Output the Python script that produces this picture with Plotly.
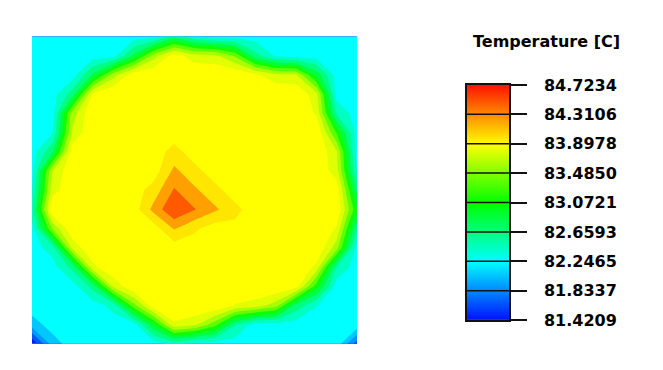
import plotly.graph_objects as go

# ---------------- data ----------------
# sample grid (normalised plate coordinates)
x_nodes = [0.0, 0.0625, 0.125, 0.1875, 0.25, 0.3125, 0.375, 0.4375, 0.5,
           0.5625, 0.625, 0.6875, 0.75, 0.8125, 0.875, 0.9375, 1.0]
y_nodes = [0.0, 0.0625, 0.125, 0.1875, 0.25, 0.3125, 0.375, 0.4375, 0.5,
           0.5625, 0.625, 0.6875, 0.75, 0.8125, 0.875, 0.9375, 1.0]

# temperature [C], one row per y (bottom -> top)
temp_rows = [
    [81.43, 82.15, 82.35, 82.35, 82.35, 82.35, 82.35, 82.52, 82.35, 82.35, 82.35, 82.35, 82.35, 82.35, 82.35, 82.38, 81.72],
    [82.15, 82.33, 82.35, 82.35, 82.35, 82.35, 83.05, 83.86, 83.74, 83.36, 82.67, 82.35, 82.35, 82.35, 82.35, 82.35, 82.38],
    [82.35, 82.35, 82.35, 82.35, 82.52, 83.40, 84.04, 84.09, 84.09, 84.09, 83.88, 83.81, 83.59, 82.79, 82.46, 82.35, 82.35],
    [82.35, 82.35, 82.35, 82.75, 83.74, 84.09, 84.05, 84.05, 84.05, 84.05, 84.09, 84.09, 84.09, 84.01, 83.17, 82.35, 82.35],
    [82.35, 82.35, 82.74, 83.84, 84.09, 84.05, 84.05, 84.05, 84.05, 84.05, 84.05, 84.05, 84.05, 84.09, 83.85, 82.64, 82.35],
    [82.35, 82.55, 83.75, 84.09, 84.05, 84.05, 84.00, 84.00, 84.00, 84.05, 84.05, 84.05, 84.05, 84.05, 84.09, 83.58, 82.35],
    [82.37, 83.50, 84.09, 84.05, 84.05, 84.00, 84.00, 84.33, 84.14, 84.00, 84.05, 84.05, 84.05, 84.05, 84.09, 83.87, 82.69],
    [82.60, 84.09, 84.05, 84.05, 84.00, 84.00, 84.38, 84.715, 84.53, 84.35, 84.16, 84.00, 84.05, 84.05, 84.05, 84.09, 83.10],
    [82.45, 83.80, 84.09, 84.05, 84.05, 84.00, 84.20, 84.54, 84.35, 84.17, 84.00, 84.00, 84.05, 84.05, 84.09, 84.03, 82.80],
    [82.35, 83.68, 84.09, 84.05, 84.05, 84.05, 84.00, 84.36, 84.17, 84.00, 84.00, 84.05, 84.05, 84.05, 84.09, 83.78, 82.48],
    [82.35, 82.83, 84.03, 84.09, 84.05, 84.05, 84.00, 84.18, 84.00, 84.00, 84.05, 84.05, 84.05, 84.05, 84.09, 83.72, 82.35],
    [82.35, 82.43, 83.72, 84.09, 84.05, 84.05, 84.00, 84.00, 84.00, 84.05, 84.05, 84.05, 84.05, 84.05, 84.09, 83.25, 82.35],
    [82.35, 82.35, 83.60, 84.09, 84.05, 84.05, 84.05, 84.05, 84.05, 84.05, 84.05, 84.05, 84.05, 84.09, 83.87, 82.63, 82.35],
    [82.35, 82.35, 82.77, 83.94, 84.09, 84.05, 84.05, 84.05, 84.05, 84.05, 84.05, 84.05, 84.09, 84.09, 83.77, 82.35, 82.35],
    [82.35, 82.35, 82.35, 82.91, 83.60, 84.04, 84.09, 84.09, 84.09, 84.09, 84.09, 83.95, 83.75, 83.72, 83.00, 82.35, 82.35],
    [82.35, 82.35, 82.35, 82.35, 82.35, 82.92, 83.60, 84.01, 83.78, 83.75, 83.45, 82.74, 82.42, 82.35, 82.35, 82.35, 82.35],
    [82.35, 82.35, 82.35, 82.35, 82.35, 82.35, 82.37, 82.80, 82.48, 82.35, 82.35, 82.35, 82.35, 82.35, 82.35, 82.35, 82.35],
]

# legend scale
cb_ticks = [81.4209, 81.8337, 82.2465, 82.6593, 83.0721, 83.4850, 83.8978, 84.3106, 84.7234]
cb_labels = ["81.4209", "81.8337", "82.2465", "82.6593", "83.0721",
             "83.4850", "83.8978", "84.3106", "84.7234"]

# fill colour of the 16 plot bands (half a legend step each), low -> high
band_colors = ["#0020ff", "#0058ff", "#0098ff", "#00c8ff", "#00ffff", "#00ffc0",
               "#00ff80", "#00ff40", "#10ff00", "#60ff00", "#a8ff00", "#e0ff00",
               "#ffff00", "#ffe600", "#ffa000", "#ff5a00"]

rainbow = [[0.0, "#0010ff"], [0.25, "#00ffff"], [0.5, "#00ff00"],
           [0.75, "#ffff00"], [1.0, "#ff1400"]]

# ---------------- figure ----------------
W, H = 663, 370
zlo, zhi = cb_ticks[0], cb_ticks[-1]
n_bands = len(band_colors)
step = (zhi - zlo) / n_bands

fill_scale = [[0.0, band_colors[0]]] + [[(k + 1) / n_bands, c] for k, c in enumerate(band_colors)]

fig = go.Figure()

fig.add_trace(go.Contour(
    x=x_nodes, y=y_nodes, z=temp_rows,
    colorscale=fill_scale, showscale=False, autocontour=False,
    contours=dict(coloring="fill", showlines=False,
                  start=zlo, end=zlo + (n_bands - 1) * step, size=step),
    line=dict(width=0, smoothing=0), hoverinfo="skip",
))

cb_step = (zhi - zlo) / (len(cb_ticks) - 1)
fig.add_trace(go.Contour(
    x=[0, 1], y=cb_ticks, z=[[v, v] for v in cb_ticks],
    colorscale=rainbow, zmin=zlo, zmax=zhi, showscale=False, autocontour=False,
    contours=dict(coloring="heatmap", showlines=True,
                  start=cb_ticks[1], end=cb_ticks[-2], size=cb_step),
    line=dict(color="#111111", width=1.5, smoothing=0),
    xaxis="x2", yaxis="y2", hoverinfo="skip",
))

def px_x(a, b):
    return [a / W, b / W]

def px_y(top, bottom):
    return [(H - bottom) / H, (H - top) / H]

bold = dict(family="DejaVu Sans", size=16, color="black", weight="bold")

fig.update_layout(
    width=W, height=H,
    margin=dict(l=0, r=0, t=0, b=0),
    paper_bgcolor="white", plot_bgcolor="white",
    showlegend=False,
    xaxis=dict(domain=px_x(32, 357), range=[0, 1], visible=False, anchor="y"),
    yaxis=dict(domain=px_y(29, 353), range=[0, 1], visible=False, anchor="x"),
    xaxis2=dict(domain=px_x(467, 509), range=[0, 1], anchor="y2",
                showline=True, linecolor="#111111", linewidth=1.5, mirror=True,
                showticklabels=False, ticks="", showgrid=False, zeroline=False),
    yaxis2=dict(domain=px_y(80, 328), range=[zlo, zhi], anchor="x2", side="right",
                tickmode="array", tickvals=cb_ticks, ticktext=cb_labels,
                ticks="outside", ticklen=16, tickwidth=1.5, tickcolor="#111111",
                showline=True, linecolor="#111111", linewidth=1.5, mirror=True,
                showgrid=False, zeroline=False, tickfont=bold,
                ticklabelstandoff=14),
    annotations=[dict(text="Temperature [C]", x=546 / W, y=(H - 34) / H,
                      xref="paper", yref="paper", showarrow=False,
                      xanchor="center", yanchor="middle", font=bold)],
)

page_fix = (
    "var d=document.getElementById('{plot_id}');"
    "var h=document.documentElement,b=document.body;"
    "h.style.margin='0';h.style.padding='0';h.style.overflow='hidden';"
    "b.style.margin='0';b.style.padding='0';b.style.overflow='hidden';"
    "d.style.position='absolute';d.style.left='0px';d.style.top='0px';"
)

fig.write_html(
    "out.html",
    config={"responsive": False, "displayModeBar": False},
    post_script=page_fix,
)
